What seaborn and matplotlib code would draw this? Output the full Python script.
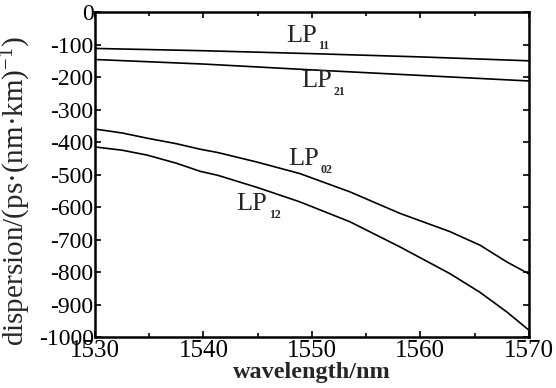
import numpy as np
import pandas as pd
import seaborn as sns
import matplotlib
matplotlib.use("Agg")
import matplotlib.pyplot as plt
from matplotlib.ticker import MultipleLocator, FuncFormatter

# values
wl_lp11 = [1530, 1540, 1550, 1560, 1570]
lp11 = [-112, -119, -128, -138, -150]

wl_lp21 = [1530, 1540, 1550, 1560, 1570]
lp21 = [-146, -160, -178, -195, -212]

wl_lp02 = [1530, 1532.5, 1534.8, 1537.5, 1539.7, 1541.3, 1545, 1548.9, 1553.5, 1558.1, 1562.7, 1565.5, 1568, 1570]
lp02 = [-360, -372, -388, -405, -422, -432, -462, -497, -553, -619, -675, -717, -769, -805]

wl_lp12 = [1530, 1532.5, 1534.8, 1537.5, 1539.7, 1541.3, 1545, 1548.9, 1553.5, 1558.1, 1562.7, 1565.5, 1568, 1570]
lp12 = [-415, -425, -440, -465, -490, -502, -540, -584, -645, -722, -804, -862, -923, -978]

modes = ["11", "21", "02", "12"]
label_x = [1547.6, 1549.0, 1547.8, 1543.0]
label_y = [-91, -232, -471, -609]   # baseline of "LP"

sns.set_theme(style="ticks")
plt.rcParams["font.family"] = ["Liberation Serif", "DejaVu Serif"]
plt.rcParams["axes.unicode_minus"] = False
plt.rcParams["mathtext.fontset"] = "custom"
plt.rcParams["mathtext.rm"] = "Liberation Serif"
plt.rcParams["mathtext.it"] = "Liberation Serif:italic"
plt.rcParams["mathtext.bf"] = "Liberation Serif:bold"

df = pd.concat([
    pd.DataFrame({"wl": wl_lp11, "d": lp11, "mode": "LP11"}),
    pd.DataFrame({"wl": wl_lp21, "d": lp21, "mode": "LP21"}),
    pd.DataFrame({"wl": wl_lp02, "d": lp02, "mode": "LP02"}),
    pd.DataFrame({"wl": wl_lp12, "d": lp12, "mode": "LP12"}),
])

fig = plt.figure(figsize=(5.56, 3.88), dpi=100)
ax = fig.add_axes([0.171, 0.131, 0.780, 0.838])

sns.lineplot(data=df, x="wl", y="d", hue="mode", units="mode", estimator=None,
             palette=["black"] * 4, legend=False, linewidth=1.2, sort=True, ax=ax)

for m, tx, ty in zip(modes, label_x, label_y):
    ax.text(tx, ty, "LP", fontsize=19, ha="left", va="baseline")
    ax.annotate(m, xy=(tx, ty), xytext=(23.5, -5.5), textcoords="offset points",
                fontsize=8.5, fontweight="bold", ha="left", va="baseline")

ax.set_xlim(1530, 1570)
ax.set_ylim(-1000, 0)
ax.xaxis.set_major_locator(MultipleLocator(10))
ax.xaxis.set_minor_locator(MultipleLocator(5))
ax.yaxis.set_major_locator(MultipleLocator(100))
ax.yaxis.set_major_formatter(FuncFormatter(lambda v, p: "%d" % round(v)))

ax.tick_params(which="both", direction="in", top=True, right=True, width=1.2, colors="black")
ax.tick_params(which="major", length=4)
ax.tick_params(which="minor", length=3)
ax.tick_params(axis="y", labelsize=17, pad=1)
ax.tick_params(axis="x", labelsize=18, pad=2)
for s in ax.spines.values():
    s.set_linewidth(1.8)
    s.set_color("black")

ax.set_xlabel("wavelength/nm", fontsize=17.5, fontweight="bold", labelpad=0)
ax.set_ylabel(r"dispersion/(ps·(nm·km)$^{\mathrm{-1}}$)", fontsize=21)
ax.yaxis.set_label_coords(-0.142, 0.45)

fig.savefig("out.png", dpi=100)
